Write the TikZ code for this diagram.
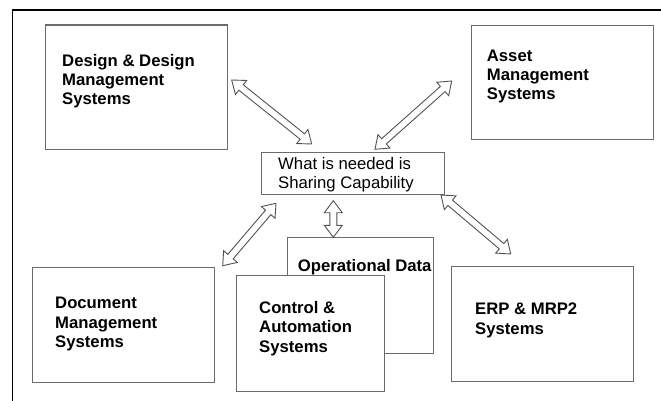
\documentclass[tikz,border=0pt]{standalone}
\usepackage{fontspec}
\setmainfont{Liberation Sans}
\usetikzlibrary{calc}
\tikzset{
  box/.style={draw=black!58, line width=1.3pt, fill=white, inner sep=0pt, anchor=north west},
  lbl/.style={inner sep=0pt, anchor=west, align=left, font=\fontsize{16.7}{19.2}\selectfont\bfseries},
  arr/.style={draw=black!68, line width=0.9pt, fill=white, line join=miter},
  frame/.style={draw=black, line width=1.3pt}
}
\newcommand\hollowdbl[2]{%
\draw[arr] (#1) -- ($(#1)!12pt!(#2)!9pt!90:(#2)$) -- ($(#1)!12pt!(#2)!3.5pt!90:(#2)$)
  -- ($(#2)!12pt!(#1)!3.5pt!-90:(#1)$) -- ($(#2)!12pt!(#1)!9pt!-90:(#1)$) -- (#2)
  -- ($(#2)!12pt!(#1)!9pt!90:(#1)$) -- ($(#2)!12pt!(#1)!3.5pt!90:(#1)$)
  -- ($(#1)!12pt!(#2)!3.5pt!-90:(#2)$) -- ($(#1)!12pt!(#2)!9pt!-90:(#2)$) -- cycle;}
\begin{document}
\begin{tikzpicture}[x=1pt,y=-1pt]
\useasboundingbox (0,0) rectangle (661,401);
% frame
\coordinate (fb) at (12.7,401);
\coordinate (fc) at (12.7,10);
\coordinate (fr) at (661,10);
\draw[frame] (fb) -- (fc) -- (fr);
% boxes
\node[box, minimum width=182pt, minimum height=124.5pt] (dd) at (45,24.5) {};
\node[box, minimum width=182.3pt, minimum height=114pt] (am) at (470.7,25) {};
\node[box, minimum width=183pt, minimum height=42pt] (ctr) at (261,152) {};
\node[box, minimum width=182.3pt, minimum height=115pt] (doc) at (31.7,266.7) {};
\node[box, minimum width=146.3pt, minimum height=116pt] (op) at (286.7,237) {};
\node[box, minimum width=148.3pt, minimum height=115.7pt] (ca) at (235.7,275) {};
\node[box, minimum width=182.3pt, minimum height=115pt] (erp) at (450.7,266) {};
% labels
\node[lbl] (ddt) at (62,81) {Design \& Design\\Management\\Systems};
\node[lbl] (amt) at (486.7,76.5) {Asset\\Management\\Systems};
\node[lbl, font=\fontsize{16.7}{19.2}\selectfont] (ctrt) at (278,174.5) {What is needed is\\Sharing Capability};
\node[lbl] (doct) at (55,324) {Document\\Management\\Systems};
\node[lbl] (opt) at (297.7,266.7) {Operational Data};
\node[lbl] (cat) at (259,328.5) {Control \&\\Automation\\Systems};
\node[lbl, font=\fontsize{16.7}{20}\selectfont\bfseries] (erpt) at (475,320) {ERP \& MRP2\\Systems};
% arrow ends
\coordinate (a1s) at (231.7,80);  \coordinate (a1e) at (311.7,144);
\coordinate (a2s) at (451.7,81);  \coordinate (a2e) at (375,149.3);
\coordinate (a3s) at (276,203.3); \coordinate (a3e) at (222.7,265.7);
\coordinate (a4s) at (333.3,200.7); \coordinate (a4e) at (333.3,237.3);
\coordinate (a5s) at (441,195);   \coordinate (a5e) at (510.7,254);
\hollowdbl{a1s}{a1e}
\hollowdbl{a2s}{a2e}
\hollowdbl{a3s}{a3e}
\hollowdbl{a4s}{a4e}
\hollowdbl{a5s}{a5e}
\end{tikzpicture}
\end{document}
